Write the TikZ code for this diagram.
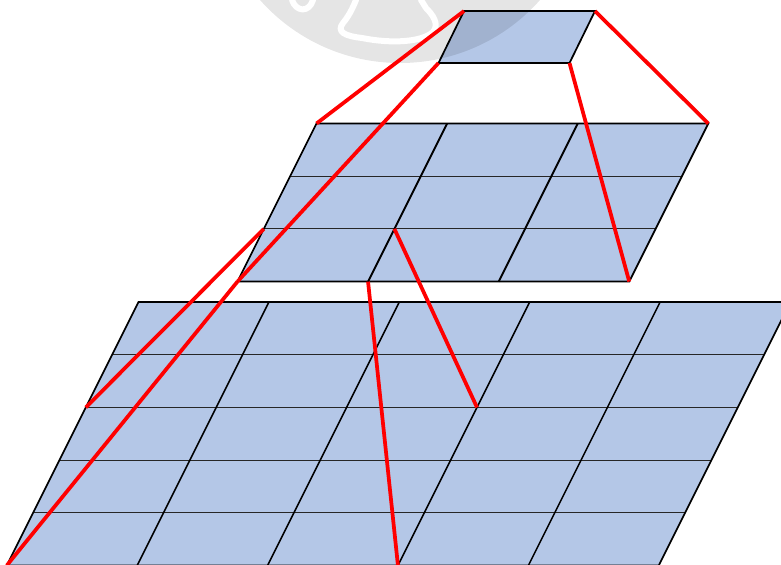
\documentclass[tikz,border=0pt]{standalone}
\definecolor{gridblue}{RGB}{180,199,231}
\definecolor{conred}{RGB}{255,0,0}
\begin{document}
\begin{tikzpicture}[x=0.75pt,y=-0.75pt,
  cellfill/.style={fill=gridblue},
  hline/.style={draw=black!85,line width=0.85pt},
  vline/.style={draw=black,line width=1.15pt},
  edgeline/.style={draw=black,line width=1.3pt,line join=miter},
  redcon/.style={draw=conred,line width=2.8pt},
  wmdisc/.style={fill=black,fill opacity=0.1},
  wmstroke/.style={draw=white,line width=4.5pt,line cap=round,line join=round}]
\useasboundingbox (0,0) rectangle (781,564);
\clip (0,0) rectangle (781,564);

% ---------- bottom grid 5x5 ----------
\def\bw{130.4}\def\bh{52.7}
\foreach \i in {0,...,5}{\foreach \j in {0,...,5}{
  \coordinate (B-\i-\j) at ({138.5+\bw*\i-0.5*\bh*\j},{302+\bh*\j});}}
\fill[cellfill] (B-0-0) -- (B-5-0) -- (B-5-5) -- (B-0-5) -- cycle;
\foreach \j in {1,...,4}{\draw[hline] (B-0-\j) -- (B-5-\j);}
\foreach \i in {1,...,4}{\draw[vline] (B-\i-0) -- (B-\i-5);}
\draw[edgeline] (B-0-0) -- (B-5-0) -- (B-5-5) -- (B-0-5) -- cycle;

% ---------- middle grid 3x3 ----------
\def\mw{130.6}\def\mh{52.7}
\foreach \i in {0,...,3}{\foreach \j in {0,...,3}{
  \coordinate (M-\i-\j) at ({316.5+\mw*\i-0.5*\mh*\j},{123.5+\mh*\j});}}
\fill[cellfill] (M-0-0) -- (M-3-0) -- (M-3-3) -- (M-0-3) -- cycle;
\foreach \j in {1,2}{\draw[hline] (M-0-\j) -- (M-3-\j);}
\foreach \i in {1,2}{\draw[vline,line width=1.4pt] (M-\i-0) -- (M-\i-3);}
\draw[edgeline] (M-0-0) -- (M-3-0) -- (M-3-3) -- (M-0-3) -- cycle;

% ---------- top cell ----------
\coordinate (T-tl) at (464,11);
\coordinate (T-tr) at (595,11);
\coordinate (T-br) at (569.5,63);
\coordinate (T-bl) at (438.5,63);
\fill[cellfill] (T-tl) -- (T-tr) -- (T-br) -- (T-bl) -- cycle;
\draw[edgeline] (T-tl) -- (T-tr) -- (T-br) -- (T-bl) -- cycle;

% ---------- watermark ----------
\fill[wmdisc] (400,-124) circle [radius=140.25pt];
\draw[wmstroke] (292,0) .. controls (296,12) and (309,13) .. (313,0);
\draw[wmstroke] (356,0) .. controls (352,10) and (348,17) .. (343,23)
  .. controls (336,32) and (345,36) .. (362,38)
  .. controls (392,44) and (422,42) .. (433,32)
  .. controls (440,24) and (432,14) .. (426,8) -- (421,0);

% ---------- red connectors ----------
\draw[redcon] (T-tl) -- (M-0-0);
\draw[redcon] (T-tr) -- (M-3-0);
\draw[redcon] (T-bl) -- (M-0-3);
\draw[redcon] (T-br) -- (M-3-3);
\draw[redcon] (M-0-2) -- (B-0-2);
\draw[redcon] (M-0-3) -- (B-0-5);
\draw[redcon] (M-1-3) -- (B-3-5);
\draw[redcon] (M-1-2) -- (B-3-2);
\end{tikzpicture}
\end{document}
